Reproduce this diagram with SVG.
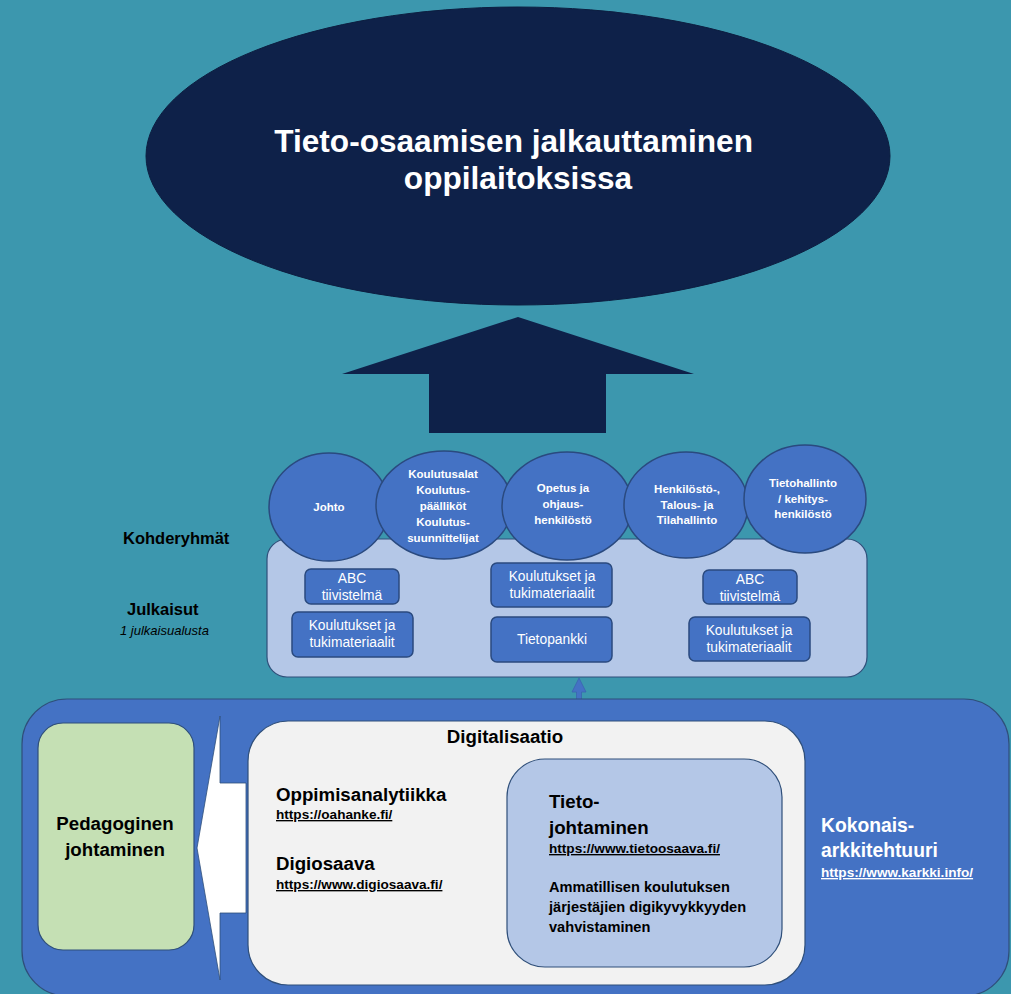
<svg xmlns="http://www.w3.org/2000/svg" width="1011" height="994" viewBox="0 0 1011 994">
<style>
  .bg { fill: #3c97ae; }
  .circ { fill: #4472c4; stroke: #2a4a7f; stroke-width: 1.5; }
  .pub { fill: #4472c4; stroke: #2a4a7f; stroke-width: 1.5; }
  .ct { font-family: "Liberation Sans", Arial, sans-serif; font-weight: bold; font-size: 11.5px; fill: #ffffff; text-anchor: middle; }
  .bt { font-family: "Liberation Sans", Arial, sans-serif; font-size: 13.8px; fill: #ffffff; text-anchor: middle; }
  .lbl { font-family: "Liberation Sans", Arial, sans-serif; font-weight: bold; font-size: 16.5px; fill: #000000; }
  .h { font-family: "Liberation Sans", Arial, sans-serif; font-weight: bold; font-size: 18.7px; fill: #000000; }
  .url { font-family: "Liberation Sans", Arial, sans-serif; font-weight: bold; font-size: 13.6px; fill: #000000; text-decoration: underline; }
  .body { font-family: "Liberation Sans", Arial, sans-serif; font-weight: bold; font-size: 14.6px; fill: #000000; }
</style>
<rect class="bg" x="0" y="0" width="1011" height="994"/>

<g id="title">
  <ellipse cx="518" cy="156" rx="372" ry="149" fill="#0e2149" stroke="#0c1e40" stroke-width="1"/>
  <text font-family="'Liberation Sans', Arial, sans-serif" font-weight="bold" font-size="31.6" fill="#ffffff" text-anchor="middle">
    <tspan x="518" y="152">Tieto-osaamisen jalkauttaminen</tspan>
    <tspan x="518" y="189">oppilaitoksissa</tspan>
  </text>
</g>

<g id="connectors">
  <polygon points="518,317 694,374 606,374 606,433 429,433 429,374 342,374" fill="#0e2149"/>
  <polygon points="579,678 586,692 581.5,692 581.5,700 576.5,700 576.5,692 572,692" fill="#4472c4" stroke="#3a64b0" stroke-width="0.8"/>
</g>

<g id="labels">
  <text class="lbl" x="123" y="544">Kohderyhmät</text>
  <text class="lbl" x="127" y="615">Julkaisut</text>
  <text x="120" y="635" font-family="'Liberation Sans', Arial, sans-serif" font-style="italic" font-size="13" fill="#000000">1 julkaisualusta</text>
</g>

<g id="julkaisut-panel">
  <rect x="267" y="539" width="600" height="138" rx="20" fill="#b4c7e7" stroke="#2f4f7a" stroke-width="1.2"/>
</g>

<g id="kohderyhma-johto">
  <ellipse class="circ" cx="329" cy="507" rx="60" ry="54"/>
  <text class="ct" x="329" y="511">Johto</text>
</g>
<g id="kohderyhma-koulutusalat">
  <ellipse class="circ" cx="444" cy="505" rx="68" ry="54"/>
  <text class="ct"><tspan x="443" y="478">Koulutusalat</tspan><tspan x="443" y="494">Koulutus-</tspan><tspan x="443" y="510">päälliköt</tspan><tspan x="443" y="526">Koulutus-</tspan><tspan x="443" y="542">suunnittelijat</tspan></text>
</g>
<g id="kohderyhma-opetus">
  <ellipse class="circ" cx="567" cy="506" rx="65" ry="54"/>
  <text class="ct"><tspan x="563" y="492">Opetus ja</tspan><tspan x="563" y="508">ohjaus-</tspan><tspan x="563" y="524">henkilöstö</tspan></text>
</g>
<g id="kohderyhma-henkilosto">
  <ellipse class="circ" cx="686" cy="505" rx="62" ry="53"/>
  <text class="ct"><tspan x="687" y="493">Henkilöstö-,</tspan><tspan x="687" y="509">Talous- ja</tspan><tspan x="687" y="524">Tilahallinto</tspan></text>
</g>
<g id="kohderyhma-tietohallinto">
  <ellipse class="circ" cx="805" cy="499" rx="61" ry="54"/>
  <text class="ct"><tspan x="803" y="487">Tietohallinto</tspan><tspan x="803" y="503">/ kehitys-</tspan><tspan x="803" y="518">henkilöstö</tspan></text>
</g>

<g id="julkaisu-abc-1">
  <rect class="pub" x="305" y="569" width="94" height="35" rx="6"/>
  <text class="bt"><tspan x="352" y="583">ABC</tspan><tspan x="352" y="600">tiivistelmä</tspan></text>
</g>
<g id="julkaisu-koulutukset-1">
  <rect class="pub" x="292" y="612" width="121" height="45" rx="6"/>
  <text class="bt"><tspan x="352" y="630">Koulutukset ja</tspan><tspan x="352" y="647">tukimateriaalit</tspan></text>
</g>
<g id="julkaisu-koulutukset-2">
  <rect class="pub" x="491" y="563" width="121" height="44" rx="6"/>
  <text class="bt"><tspan x="552" y="581">Koulutukset ja</tspan><tspan x="552" y="598">tukimateriaalit</tspan></text>
</g>
<g id="julkaisu-tietopankki">
  <rect class="pub" x="491" y="617" width="121" height="45" rx="6"/>
  <text class="bt" x="552" y="644">Tietopankki</text>
</g>
<g id="julkaisu-abc-2">
  <rect class="pub" x="703" y="570" width="94" height="34" rx="6"/>
  <text class="bt"><tspan x="750" y="584">ABC</tspan><tspan x="750" y="601">tiivistelmä</tspan></text>
</g>
<g id="julkaisu-koulutukset-3">
  <rect class="pub" x="689" y="617" width="121" height="44" rx="6"/>
  <text class="bt"><tspan x="749" y="635">Koulutukset ja</tspan><tspan x="749" y="652">tukimateriaalit</tspan></text>
</g>

<g id="kokonaisarkkitehtuuri">
  <rect x="22" y="699" width="987" height="297" rx="45" fill="#4472c4" stroke="#2f4f7a" stroke-width="1.2"/>
  <text font-family="'Liberation Sans', Arial, sans-serif" font-weight="bold" font-size="19.3" fill="#ffffff"><tspan x="821" y="832">Kokonais-</tspan><tspan x="821" y="857">arkkitehtuuri</tspan></text>
  <text x="821" y="877" font-family="'Liberation Sans', Arial, sans-serif" font-weight="bold" font-size="13.6" fill="#ffffff" text-decoration="underline">https://www.karkki.info/</text>
</g>

<g id="pedagoginen-johtaminen">
  <rect x="38" y="723" width="156" height="227" rx="25" fill="#c5e0b4" stroke="#2f4f7a" stroke-width="1.2"/>
  <text class="h" text-anchor="middle" font-size="18.5"><tspan x="115" y="830">Pedagoginen</tspan><tspan x="115" y="856">johtaminen</tspan></text>
</g>

<g id="vaikutus-nuoli">
  <polygon points="197,848 220,716 220,783 246,783 246,913 220,913 220,980" fill="#ffffff" stroke="#2f4f7a" stroke-width="0.8"/>
</g>

<g id="digitalisaatio">
  <rect x="248" y="721" width="557" height="264" rx="40" fill="#f2f2f2" stroke="#2f4f7a" stroke-width="1.2"/>
  <text class="h" x="505" y="743" text-anchor="middle" font-size="17.5">Digitalisaatio</text>
  <text class="h" x="276" y="801" font-size="19">Oppimisanalytiikka</text>
  <text class="url" x="276" y="819">https://oahanke.fi/</text>
  <text class="h" x="276" y="870" font-size="19">Digiosaava</text>
  <text class="url" x="276" y="889">https://www.digiosaava.fi/</text>
</g>

<g id="tietojohtaminen">
  <rect x="507" y="759" width="275" height="208" rx="38" fill="#b4c7e7" stroke="#2f4f7a" stroke-width="1.2"/>
  <text class="h"><tspan x="549" y="808">Tieto-</tspan><tspan x="549" y="834">johtaminen</tspan></text>
  <text class="url" x="549" y="853">https://www.tietoosaava.fi/</text>
  <text class="body"><tspan x="549" y="892">Ammatillisen koulutuksen</tspan><tspan x="549" y="912">järjestäjien digikyvykkyyden</tspan><tspan x="549" y="932">vahvistaminen</tspan></text>
</g>
</svg>
